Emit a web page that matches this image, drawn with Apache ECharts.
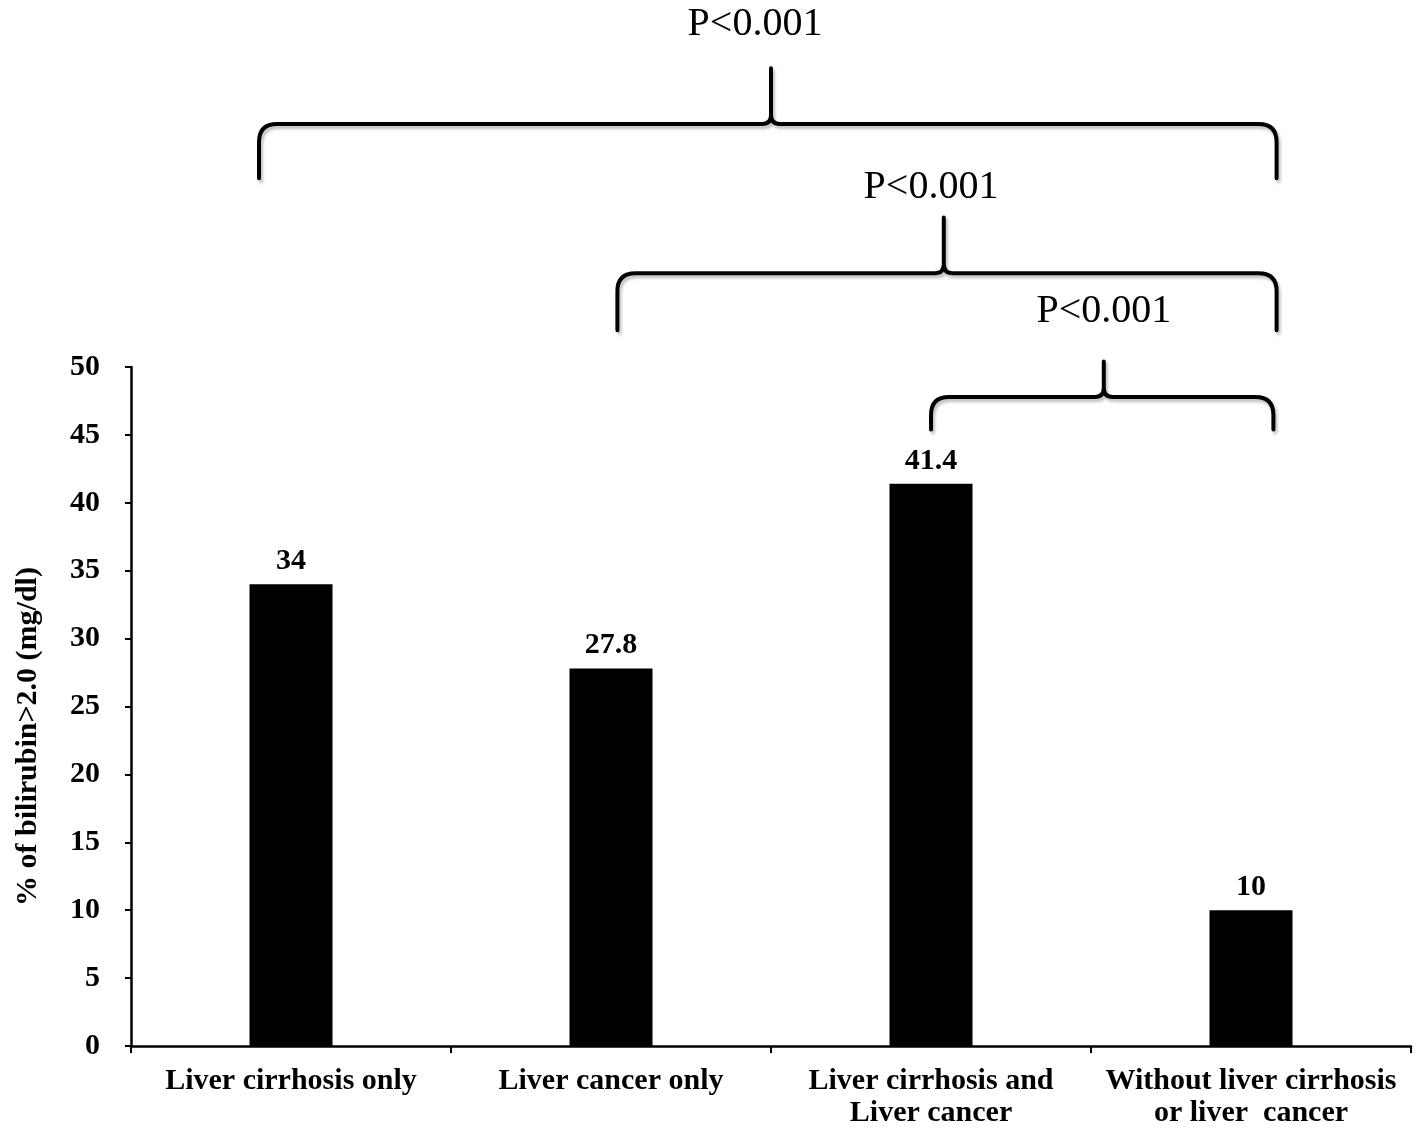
<!DOCTYPE html>
<html>
<head>
<meta charset="utf-8">
<script src="https://cdn.jsdelivr.net/npm/echarts@6/dist/echarts.min.js"></script>
<style>html,body{margin:0;padding:0;background:#fff}#c{width:1422px;height:1127px}</style>
</head>
<body>
<div id="c"></div>
<script>
var categories = ['Liver cirrhosis only', 'Liver cancer only', 'Liver cirrhosis and\nLiver cancer', 'Without liver cirrhosis\nor liver  cancer'];
var values = [34, 27.8, 41.4, 10];
var yTicks = [0, 50, 5]; // min, max, interval

// significance brackets (category-index positions, value-axis heights)
var braceLeft = [-0.1, 1.02, 2.0];
var braceRight = [3.08, 3.08, 3.07];
var bracePeakX = [1.5, 2.04, 2.54];
var braceEndY = [63.9, 52.7, 45.4];
var braceBarY = [67.9, 56.9, 47.8];
var bracePeakY = [72.0, 61.0, 50.4];
var braceText = ['P<0.001', 'P<0.001', 'P<0.001'];
var braceTextX = [1.45, 2.0, 2.54];
var braceTextY = [75.2, 63.2, 54.1];

var FONT = '"Liberation Serif", "Times New Roman", serif';
var chart = echarts.init(document.getElementById('c'), null, {renderer: 'canvas'});

function renderBrace(params, api) {
  var i = params.dataIndex;
  var p0 = api.coord([0, 0]);
  var p1 = api.coord([1, 0]);
  function X(idx) { return p0[0] + (p1[0] - p0[0]) * idx; }
  function Y(v) { return api.coord([0, v])[1]; }
  var x0 = X(braceLeft[i]), x1 = X(braceRight[i]), xm = X(bracePeakX[i]);
  var yE = Y(braceEndY[i]), yB = Y(braceBarY[i]), yP = Y(bracePeakY[i]);
  var r = Math.min(18, (yE - yB) * 0.6);
  var r2 = 9;
  var d = 'M' + x0 + ' ' + yE +
    ' L' + x0 + ' ' + (yB + r) +
    ' Q' + x0 + ' ' + yB + ' ' + (x0 + r) + ' ' + yB +
    ' L' + (xm - r2) + ' ' + yB +
    ' Q' + xm + ' ' + yB + ' ' + xm + ' ' + (yB - r2) +
    ' L' + xm + ' ' + yP +
    ' L' + xm + ' ' + (yB - r2) +
    ' Q' + xm + ' ' + yB + ' ' + (xm + r2) + ' ' + yB +
    ' L' + (x1 - r) + ' ' + yB +
    ' Q' + x1 + ' ' + yB + ' ' + x1 + ' ' + (yB + r) +
    ' L' + x1 + ' ' + yE;
  return {
    type: 'group',
    children: [
      {
        type: 'path',
        shape: {pathData: d},
        style: {
          fill: null, stroke: '#000', lineWidth: 4, lineJoin: 'round', lineCap: 'round',
          shadowColor: 'rgba(0,0,0,0.25)', shadowBlur: 3, shadowOffsetX: 2, shadowOffsetY: 3
        }
      },
      {
        type: 'text',
        style: {
          text: braceText[i], x: X(braceTextX[i]), y: Y(braceTextY[i]),
          align: 'center', verticalAlign: 'middle',
          font: '40px ' + FONT, fill: '#000'
        }
      }
    ]
  };
}

chart.setOption({
  animation: false,
  backgroundColor: '#fff',
  grid: {left: 131, right: 11, top: 367, bottom: 81, containLabel: false, outerBoundsMode: 'none'},
  xAxis: {
    type: 'category',
    data: categories,
    boundaryGap: true,
    axisLine: {show: true, lineStyle: {color: '#000', width: 2.5}},
    axisTick: {show: true, interval: 0, length: 7, lineStyle: {color: '#000', width: 2}},
    axisLabel: {
      interval: 0, margin: 19, color: '#000', fontFamily: FONT, fontWeight: 'bold',
      fontSize: 30, lineHeight: 32
    },
    splitLine: {show: false}
  },
  yAxis: {
    type: 'value',
    min: yTicks[0], max: yTicks[1], interval: yTicks[2],
    name: '% of bilirubin>2.0 (mg/dl)',
    nameLocation: 'middle',
    nameGap: 88,
    nameTextStyle: {color: '#000', fontFamily: FONT, fontWeight: 'bold', fontSize: 30, padding: [0, 60, 0, 0]},
    axisLine: {show: true, lineStyle: {color: '#000', width: 2.5}},
    axisTick: {show: true, length: 6, lineStyle: {color: '#000', width: 2}},
    axisLabel: {margin: 31, color: '#000', fontFamily: FONT, fontWeight: 'bold', fontSize: 30},
    splitLine: {show: false}
  },
  series: [
    {
      type: 'bar',
      data: values,
      barWidth: 83,
      itemStyle: {color: '#000'},
      label: {
        show: true, position: 'top', distance: 8, color: '#000',
        fontFamily: FONT, fontWeight: 'bold', fontSize: 30
      }
    },
    {
      type: 'custom',
      clip: false,
      silent: true,
      renderItem: renderBrace,
      data: braceBarY.map(function (v, i) { return [i, 0]; }),
      z: 5
    }
  ]
});
</script>
</body>
</html>
